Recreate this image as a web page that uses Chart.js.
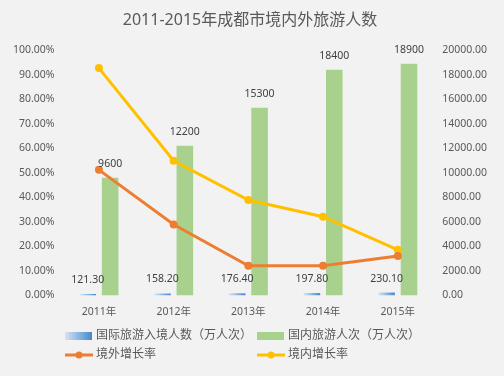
<!DOCTYPE html>
<html>
<head>
<meta charset="utf-8">
<script src="https://cdn.jsdelivr.net/npm/chart.js@4.4.1/dist/chart.umd.min.js"></script>
<style>
  html, body { margin: 0; padding: 0; background: #f2f2f2; }
  #wrap { width: 504px; height: 376px; }
</style>
</head>
<body>
<div id="wrap"><canvas id="chart" width="504" height="376"></canvas></div>
<script>
const years = ['2011年', '2012年', '2013年', '2014年', '2015年'];
const intlArrivals = [121.3, 158.2, 176.4, 197.8, 230.1];   // 国际旅游入境人数（万人次）
const domesticVisits = [9600, 12200, 15300, 18400, 18900];  // 国内旅游人次（万人次）
const foreignGrowth = [51.2, 28.9, 12.1, 12.1, 16.1];       // 境外增长率 (%)
const domesticGrowth = [92.7, 54.9, 38.9, 32.1, 18.6];      // 境内增长率 (%)

const FONT = '"Noto Sans", "Noto Sans CJK SC", sans-serif';
const TXT = '#595959';
const TICK = 10.5;
const CAT_PCT = 0.6, BAR_PCT = 0.74;

// horizontal blue gradient for the little bars
function blueFill(ctx) {
  const chart = ctx.chart;
  const xs = chart.scales.x;
  if (!xs || ctx.dataIndex == null) return '#5b9bd5';
  const slot = xs.width / years.length * CAT_PCT / 2;
  const cx = xs.getPixelForValue(ctx.dataIndex) - slot / 2;
  const w = slot * BAR_PCT;
  if (!Number.isFinite(cx) || !Number.isFinite(w) || w <= 0) return '#5b9bd5';
  const g = chart.ctx.createLinearGradient(cx - w / 2, 0, cx + w / 2, 0);
  g.addColorStop(0, '#d6e4f4');
  g.addColorStop(0.6, '#7eaee0');
  g.addColorStop(1, '#4a86c8');
  return g;
}

const valueLabels = {
  id: 'valueLabels',
  afterDatasetsDraw(chart) {
    const c = chart.ctx;
    c.save();
    c.font = TICK + 'px ' + FONT;
    c.fillStyle = '#404040';
    c.textAlign = 'center';
    c.textBaseline = 'middle';
    chart.data.datasets.forEach((ds, di) => {
      if (ds.type !== 'bar') return;
      chart.getDatasetMeta(di).data.forEach((el, i) => {
        const v = ds.data[i];
        const txt = ds.decimals ? v.toFixed(2) : String(v);
        c.fillText(txt, el.x, el.y - 14);
      });
    });
    c.restore();
  }
};

const customLegend = {
  id: 'customLegend',
  afterDraw(chart) {
    const c = chart.ctx;
    const ds = chart.data.datasets;
    const cols = [65, 257];
    const rows = [336, 355];
    c.save();
    c.font = '12px ' + FONT;
    c.textBaseline = 'middle';
    c.textAlign = 'left';
    ds.forEach((d, i) => {
      const x = cols[i % 2], y = rows[Math.floor(i / 2)];
      if (d.type === 'bar') {
        if (d.decimals) {
          const g = c.createLinearGradient(x, 0, x + 27, 0);
          g.addColorStop(0, '#d6e4f4');
          g.addColorStop(0.6, '#7eaee0');
          g.addColorStop(1, '#4a86c8');
          c.fillStyle = g;
        } else {
          c.fillStyle = d.backgroundColor;
        }
        c.fillRect(x, y - 4, 27, 8);
      } else {
        c.strokeStyle = d.borderColor;
        c.lineWidth = 3;
        c.beginPath();
        c.moveTo(x, y);
        c.lineTo(x + 28, y);
        c.stroke();
        c.fillStyle = d.borderColor;
        c.beginPath();
        c.arc(x + 14, y, 3.5, 0, Math.PI * 2);
        c.fill();
      }
      c.fillStyle = TXT;
      c.fillText(d.label, x + 31, y);
    });
    c.restore();
  }
};

new Chart(document.getElementById('chart'), {
  data: {
    labels: years,
    datasets: [
      {
        type: 'bar', label: '国际旅游入境人数（万人次）', data: intlArrivals,
        yAxisID: 'y2', backgroundColor: blueFill, decimals: true, order: 2,
        categoryPercentage: CAT_PCT, barPercentage: BAR_PCT
      },
      {
        type: 'bar', label: '国内旅游人次（万人次）', data: domesticVisits,
        yAxisID: 'y2', backgroundColor: '#a9d18e', order: 2,
        categoryPercentage: CAT_PCT, barPercentage: BAR_PCT
      },
      {
        type: 'line', label: '境外增长率', data: foreignGrowth, yAxisID: 'y',
        borderColor: '#ed7d31', backgroundColor: '#ed7d31', borderWidth: 3,
        pointRadius: 4, pointBackgroundColor: '#ed7d31', pointBorderWidth: 0,
        tension: 0, order: 1
      },
      {
        type: 'line', label: '境内增长率', data: domesticGrowth, yAxisID: 'y',
        borderColor: '#ffc000', backgroundColor: '#ffc000', borderWidth: 3,
        pointRadius: 4, pointBackgroundColor: '#ffc000', pointBorderWidth: 0,
        tension: 0, order: 1
      }
    ]
  },
  options: {
    responsive: false,
    animation: false,
    layout: { padding: { left: 6, right: 10, top: 0, bottom: 48 } },
    plugins: {
      legend: { display: false },
      tooltip: { enabled: false },
      title: {
        display: true,
        text: '2011-2015年成都市境内外旅游人数',
        color: TXT,
        font: { family: FONT, size: 16, weight: 'normal' },
        padding: { top: 11, bottom: 20 }
      }
    },
    scales: {
      x: {
        grid: { display: false, drawTicks: false },
        border: { display: false },
        ticks: { color: TXT, font: { family: FONT, size: TICK }, padding: 10 }
      },
      y: {
        position: 'left', min: 0, max: 100,
        grid: { display: false, drawTicks: false },
        border: { display: false },
        ticks: {
          stepSize: 10, color: TXT, padding: 7,
          font: { family: FONT, size: TICK },
          callback: v => v.toFixed(2) + '%'
        }
      },
      y2: {
        position: 'right', min: 0, max: 20000,
        grid: { display: false, drawTicks: false },
        border: { display: false },
        ticks: {
          stepSize: 2000, color: TXT, padding: 7,
          font: { family: FONT, size: TICK },
          callback: v => v.toFixed(2)
        }
      }
    }
  },
  plugins: [valueLabels, customLegend]
});
</script>
</body>
</html>
